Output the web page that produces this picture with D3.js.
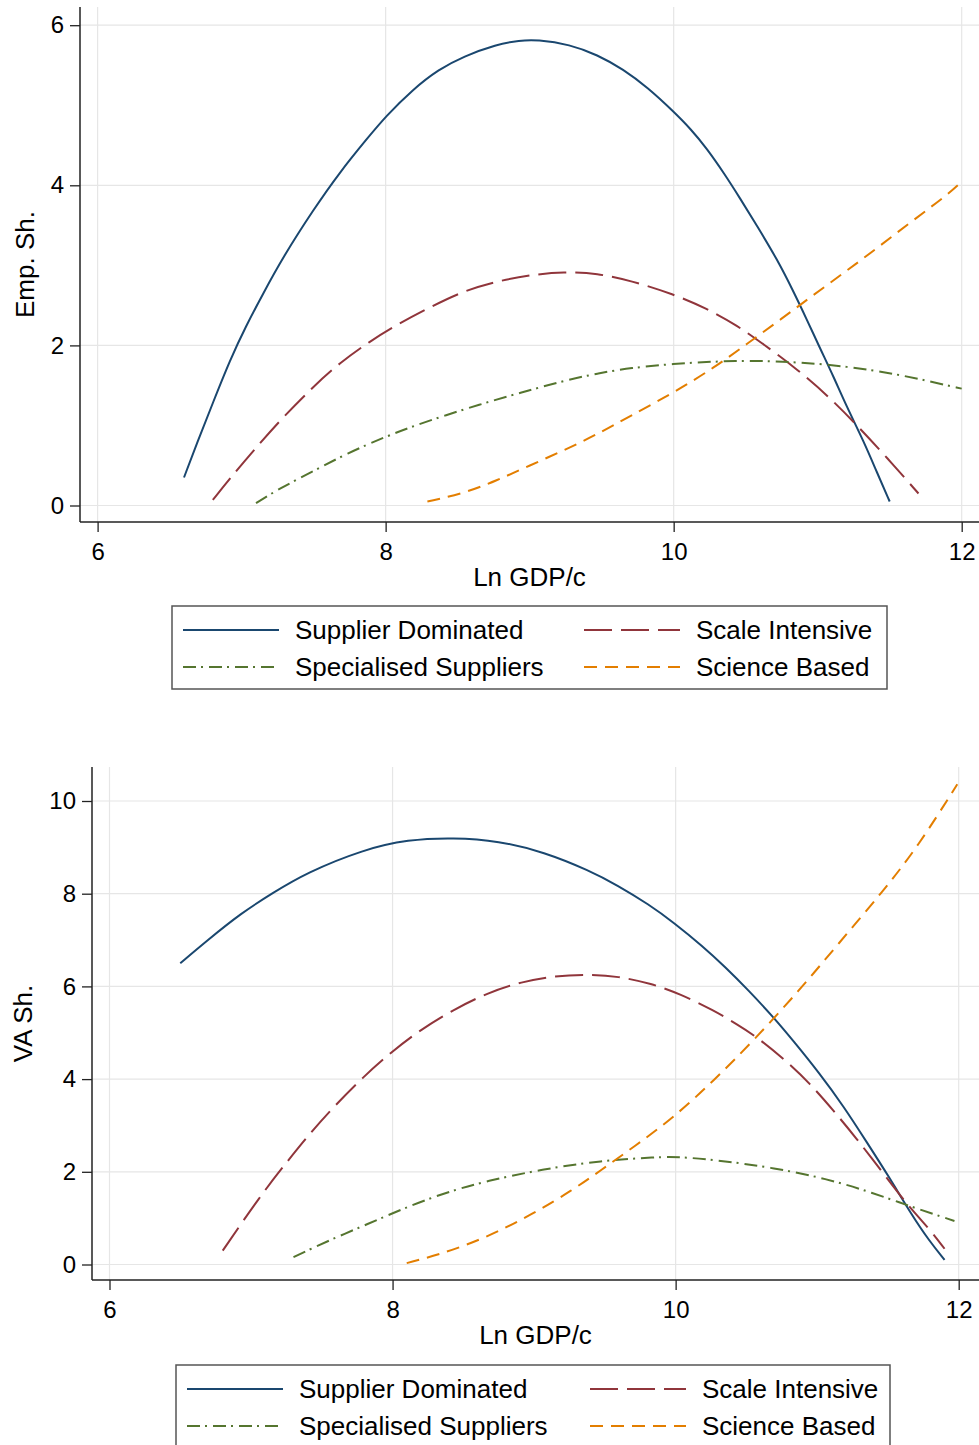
<!DOCTYPE html>
<html>
<head>
<meta charset="utf-8">
<script src="https://cdn.jsdelivr.net/npm/d3@7"></script>
<style>
  body { margin: 0; background: #fff; }
  svg { display: block; }
  text { font-family: "Liberation Sans", Arial, sans-serif; fill: #000; }
</style>
</head>
<body>
<svg id="chart" width="979" height="1445"></svg>
<script>
// ---------------- DATA ----------------
const seriesNames = ["Supplier Dominated", "Scale Intensive", "Specialised Suppliers", "Science Based"];
const xTickValues = [6, 8, 10, 12];
const empYTicks = [0, 2, 4, 6];
const vaYTicks = [0, 2, 4, 6, 8, 10];
const xTitle = "Ln GDP/c";
const empYTitle = "Emp. Sh.";
const vaYTitle = "VA Sh.";

// Panel 1: employment share  [Ln GDP/c, share]
const empSupplierDominated = [
  [6.60,0.35],[6.69,0.78],[6.80,1.28],[6.92,1.82],[7.03,2.24],[7.15,2.65],[7.29,3.11],
  [7.50,3.70],[7.68,4.16],[7.87,4.58],[8.00,4.86],[8.19,5.20],[8.37,5.45],[8.54,5.61],
  [8.77,5.76],[8.93,5.81],[9.05,5.82],[9.28,5.76],[9.47,5.63],[9.65,5.45],[9.82,5.22],
  [10.00,4.92],[10.12,4.70],[10.23,4.46],[10.35,4.15],[10.46,3.84],[10.58,3.49],[10.72,3.07],
  [10.83,2.68],[10.92,2.34],[11.02,1.95],[11.11,1.61],[11.20,1.24],[11.32,0.80],[11.41,0.42],[11.50,0.05]
];
const empScaleIntensive = [
  [6.80,0.07],[6.92,0.34],[7.08,0.68],[7.27,1.07],[7.50,1.49],[7.68,1.78],[7.89,2.05],
  [8.07,2.25],[8.30,2.47],[8.54,2.68],[8.77,2.80],[9.00,2.88],[9.24,2.92],[9.47,2.90],
  [9.70,2.81],[10.00,2.64],[10.23,2.46],[10.44,2.25],[10.62,2.02],[10.86,1.70],[11.09,1.34],
  [11.29,0.97],[11.48,0.60],[11.70,0.15]
];
const empSpecialisedSuppliers = [
  [7.10,0.03],[7.27,0.22],[7.50,0.43],[7.73,0.65],[8.00,0.86],[8.19,0.99],[8.42,1.13],
  [8.65,1.26],[8.88,1.38],[9.00,1.44],[9.24,1.56],[9.47,1.65],[9.70,1.72],[10.00,1.77],
  [10.28,1.80],[10.58,1.81],[10.86,1.79],[11.20,1.74],[11.55,1.64],[11.78,1.55],[12.00,1.46]
];
const empScienceBased = [
  [8.29,0.05],[8.54,0.15],[8.77,0.31],[9.00,0.50],[9.24,0.69],[9.47,0.89],[9.70,1.12],
  [10.00,1.41],[10.28,1.72],[10.51,2.02],[10.74,2.32],[10.97,2.63],[11.20,2.93],[11.43,3.24],
  [11.66,3.56],[11.90,3.88],[11.99,4.03]
];

// Panel 2: value-added share  [Ln GDP/c, share]
const vaSupplierDominated = [
  [6.50,6.50],[6.69,6.99],[6.93,7.58],[7.15,8.01],[7.39,8.45],[7.79,8.95],[8.11,9.17],
  [8.43,9.21],[8.75,9.14],[9.07,8.90],[9.39,8.50],[9.59,8.18],[9.81,7.77],[9.99,7.37],
  [10.19,6.87],[10.35,6.42],[10.51,5.93],[10.69,5.34],[10.83,4.83],[11.01,4.15],[11.19,3.40],
  [11.35,2.64],[11.51,1.88],[11.67,1.06],[11.79,0.52],[11.90,0.10]
];
const vaScaleIntensive = [
  [6.80,0.30],[7.07,1.50],[7.25,2.20],[7.43,2.88],[7.59,3.42],[7.79,4.04],[7.99,4.58],
  [8.19,5.05],[8.43,5.50],[8.67,5.86],[8.91,6.10],[9.15,6.23],[9.39,6.26],[9.59,6.22],
  [9.83,6.06],[10.03,5.84],[10.27,5.48],[10.43,5.19],[10.57,4.92],[10.79,4.37],[10.95,3.90],
  [11.11,3.34],[11.27,2.75],[11.47,1.96],[11.63,1.31],[11.79,0.78],[11.90,0.34]
];
const vaSpecialisedSuppliers = [
  [7.30,0.16],[7.55,0.52],[7.83,0.88],[8.07,1.20],[8.35,1.53],[8.67,1.81],[9.07,2.06],
  [9.47,2.24],[9.87,2.32],[10.03,2.32],[10.27,2.26],[10.67,2.10],[11.07,1.85],[11.39,1.55],
  [11.67,1.24],[11.97,0.94]
];
const vaScienceBased = [
  [8.10,0.03],[8.35,0.23],[8.67,0.59],[8.99,1.09],[9.27,1.60],[9.47,2.03],[9.71,2.55],
  [9.99,3.18],[10.27,3.97],[10.55,4.83],[10.87,5.90],[11.15,6.92],[11.47,8.07],[11.71,9.01],
  [11.99,10.36]
];

// ---------------- STYLE ----------------
const seriesColors = ["#1a476f", "#90353b", "#55752f", "#e37e00"];
const seriesDashes = [null, "28 9", "13 5 2 6", "13 8"];
const lineWidth = 2;
const gridColor = "#e6e6e6";
const axisColor = "#222";

const svg = d3.select("#chart");

function drawPanel(p) {
  const g = svg.append("g");
  const x = d3.scaleLinear().domain([6, 12]).range(p.xPix);
  const y = d3.scaleLinear().domain([p.yTicks[0], p.yTicks[p.yTicks.length - 1]]).range(p.yPix);

  // gridlines
  g.selectAll(".hgrid").data(p.yTicks).join("line")
    .attr("x1", p.left).attr("x2", p.right)
    .attr("y1", d => y(d)).attr("y2", d => y(d))
    .attr("stroke", gridColor).attr("stroke-width", 1.2);
  g.selectAll(".vgrid").data(xTickValues).join("line")
    .attr("x1", d => x(d)).attr("x2", d => x(d))
    .attr("y1", p.top).attr("y2", p.bottom)
    .attr("stroke", gridColor).attr("stroke-width", 1.2);

  // series
  const line = d3.line().x(d => x(d[0])).y(d => y(d[1])).curve(d3.curveBasis);
  p.series.forEach((s, i) => {
    g.append("path").attr("d", line(s))
      .attr("fill", "none").attr("stroke", seriesColors[i])
      .attr("stroke-width", lineWidth)
      .attr("stroke-dasharray", seriesDashes[i]);
  });

  // axes
  const fmt = d3.format("d");
  const yAxis = d3.axisLeft(y).tickValues(p.yTicks).tickFormat(fmt).tickSize(10).tickSizeOuter(0).tickPadding(6);
  const yg = g.append("g").attr("transform", `translate(${p.left},0)`).call(yAxis);
  yg.select(".domain").remove();
  yg.selectAll(".tick line").attr("stroke", axisColor).attr("stroke-width", 1.3);
  yg.selectAll(".tick text").attr("font-size", 24).attr("font-family", "Liberation Sans, Arial, sans-serif").attr("fill", "#000");
  g.append("line").attr("x1", p.left).attr("x2", p.left).attr("y1", p.top).attr("y2", p.bottom)
    .attr("stroke", axisColor).attr("stroke-width", 1.5);

  const xAxis = d3.axisBottom(x).tickValues(xTickValues).tickFormat(fmt).tickSize(10).tickSizeOuter(0).tickPadding(11);
  const xg = g.append("g").attr("transform", `translate(0,${p.bottom})`).call(xAxis);
  xg.select(".domain").remove();
  xg.selectAll(".tick line").attr("stroke", axisColor).attr("stroke-width", 1.3);
  xg.selectAll(".tick text").attr("font-size", 24).attr("font-family", "Liberation Sans, Arial, sans-serif").attr("fill", "#000");
  g.append("line").attr("x1", p.left).attr("x2", p.right).attr("y1", p.bottom).attr("y2", p.bottom)
    .attr("stroke", axisColor).attr("stroke-width", 1.5);

  // titles
  g.append("text").attr("x", (p.left + p.right) / 2).attr("y", p.xTitleY)
    .attr("text-anchor", "middle").attr("font-size", 26).text(xTitle);
  g.append("text").attr("transform", `translate(${p.yTitleX},${(p.top + p.bottom) / 2}) rotate(-90)`)
    .attr("text-anchor", "middle").attr("dy", "0.35em").attr("font-size", 26).text(p.yTitle);

  // legend
  const L = p.legend;
  g.append("rect").attr("x", L.x).attr("y", L.y).attr("width", L.w).attr("height", L.h)
    .attr("fill", "#fff").attr("stroke", "#555").attr("stroke-width", 1.5);
  const cols = [L.x + 11, L.x + L.col2];
  const rows = [L.y + 24, L.y + 61];
  [0, 1, 2, 3].forEach((si, k) => {
    const cx = cols[k % 2], cy = rows[Math.floor(k / 2)];
    g.append("line").attr("x1", cx).attr("x2", cx + 96).attr("y1", cy).attr("y2", cy)
      .attr("stroke", seriesColors[si]).attr("stroke-width", lineWidth)
      .attr("stroke-dasharray", seriesDashes[si]);
    g.append("text").attr("x", cx + 112).attr("y", cy).attr("dy", "0.36em")
      .attr("font-size", 26).text(seriesNames[si]);
  });
}

drawPanel({
  left: 80, right: 979, top: 7, bottom: 522,
  xPix: [97.6, 961.7], yPix: [505.5, 25.2], yTicks: empYTicks,
  series: [empSupplierDominated, empScaleIntensive, empSpecialisedSuppliers, empScienceBased],
  xTitleY: 586, yTitleX: 25, yTitle: empYTitle,
  legend: { x: 172, y: 606, w: 715, h: 83, col2: 412 }
});

drawPanel({
  left: 92, right: 979, top: 767, bottom: 1280,
  xPix: [109.5, 958.7], yPix: [1264.5, 801], yTicks: vaYTicks,
  series: [vaSupplierDominated, vaScaleIntensive, vaSpecialisedSuppliers, vaScienceBased],
  xTitleY: 1344, yTitleX: 23, yTitle: vaYTitle,
  legend: { x: 176, y: 1365, w: 714, h: 90, col2: 414 }
});
</script>
</body>
</html>
